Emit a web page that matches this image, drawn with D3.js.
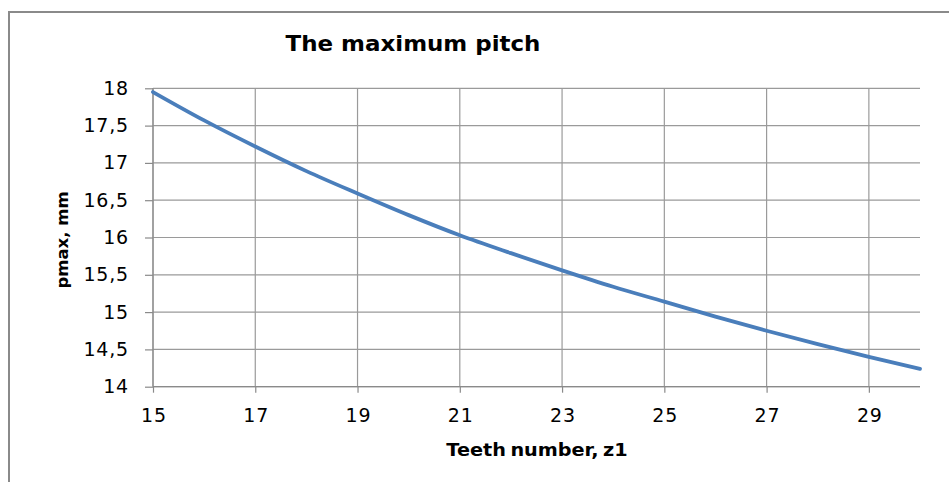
<!DOCTYPE html>
<html><head><meta charset="utf-8">
<script src="https://cdn.jsdelivr.net/npm/d3@7"></script>
<style>
html,body{margin:0;padding:0;background:#fff;}
text{font-family:"DejaVu Sans",sans-serif;fill:#000;}
</style></head>
<body><svg id="c" width="949" height="482"></svg>
<script>
const teeth = [15,16,17,18,19,20,21,22,23,24,25,26,27,28,29,30];
const pmax  = [17.95,17.57,17.22,16.89,16.59,16.30,16.03,15.79,15.56,15.34,15.14,14.94,14.75,14.57,14.40,14.24];
const xTicks = [15,17,19,21,23,25,27,29];
const yTicks = [14,14.5,15,15.5,16,16.5,17,17.5,18];
const yTickLabels = ["14","14,5","15","15,5","16","16,5","17","17,5","18"];
const title = "The maximum pitch";
const xTitle = "Teeth number, z1";
const yTitle = "pmax, mm";

const svg = d3.select("#c");
const L = 153, R = 920, T = 88.3, B = 386.7;
const x = d3.scaleLinear().domain([15,30]).range([L,R]);
const y = d3.scaleLinear().domain([14,18]).range([B,T]);

// chart border
svg.append("path").attr("d", `M9,482 V12 H949`).attr("fill","none")
  .attr("stroke","#8a8a8a").attr("stroke-width",2);

// gridlines
const grid = svg.append("g").attr("stroke","#9a9a9a").attr("stroke-width",1.2);
yTicks.forEach(v => grid.append("line").attr("x1",L).attr("x2",R).attr("y1",y(v)).attr("y2",y(v)));
xTicks.forEach(v => grid.append("line").attr("x1",x(v)).attr("x2",x(v)).attr("y1",T).attr("y2",B));

// axes
const xAxis = d3.axisBottom(x).tickValues(xTicks).tickSize(6).tickPadding(16).tickFormat(d3.format("d"));
const gx = svg.append("g").attr("transform",`translate(0,${B})`).call(xAxis);
gx.select(".domain").remove();
gx.selectAll(".tick line").attr("stroke","#8a8a8a").attr("stroke-width",1.2);
gx.selectAll(".tick text").attr("font-size",19).attr("fill","#222")
  .attr("letter-spacing",0.8).attr("dx",0.4).style("font-family","DejaVu Sans");

const yAxis = d3.axisLeft(y).tickValues(yTicks).tickSize(8).tickPadding(16)
  .tickFormat((d,i)=>yTickLabels[i]);
const gy = svg.append("g").attr("transform",`translate(${L},0)`).call(yAxis);
gy.select(".domain").remove();
gy.selectAll(".tick line").attr("stroke","#8a8a8a").attr("stroke-width",1.2);
gy.selectAll(".tick text").attr("font-size",19).attr("fill","#222")
  .attr("letter-spacing",0.8).style("font-family","DejaVu Sans");

// axis lines
svg.append("line").attr("x1",L).attr("x2",R).attr("y1",B).attr("y2",B).attr("stroke","#8a8a8a").attr("stroke-width",1.2);
svg.append("line").attr("x1",L).attr("x2",L).attr("y1",T).attr("y2",B).attr("stroke","#8a8a8a").attr("stroke-width",1.2);

// series
const line = d3.line().x((d,i)=>x(teeth[i])).y(d=>y(d)).curve(d3.curveMonotoneX);
svg.append("path").datum(pmax).attr("d",line).attr("fill","none")
  .attr("stroke","#4a7ebb").attr("stroke-width",3.8).attr("stroke-linecap","round");

// titles
svg.append("text").attr("transform","translate(413,51) scale(1.12,1)").attr("text-anchor","middle")
  .attr("font-size",20.5).attr("font-weight","bold").text(title);
svg.append("text").attr("transform","translate(537,456) scale(1.1,1)").attr("text-anchor","middle")
  .attr("font-size",17.5).attr("font-weight","bold").attr("word-spacing",-2).text(xTitle);
svg.append("text").attr("transform","translate(68,240) rotate(-90)").attr("text-anchor","middle")
  .attr("font-size",16.5).attr("font-weight","bold").text(yTitle);
</script></body></html>
